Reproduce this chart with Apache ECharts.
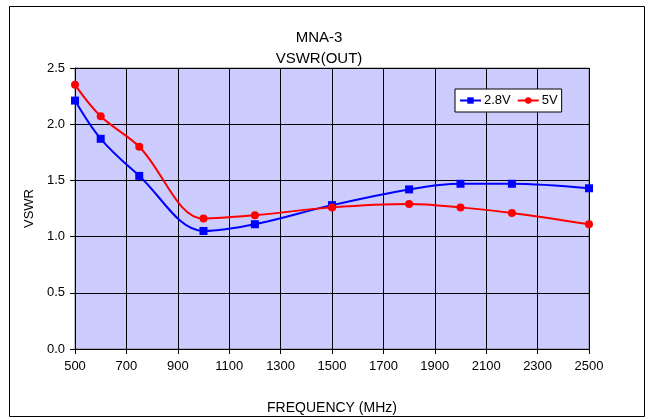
<!DOCTYPE html>
<html><head><meta charset="utf-8">
<script src="https://cdn.jsdelivr.net/npm/echarts@6/dist/echarts.min.js"></script>
<style>html,body{margin:0;padding:0;background:#fff}#c{width:650px;height:420px}</style>
</head><body><div id="c"></div>
<script>
var freq = [500, 600, 750, 1000, 1200, 1500, 1800, 2000, 2200, 2500];
var v28 = [2.21, 1.87, 1.54, 1.05, 1.11, 1.28, 1.42, 1.47, 1.47, 1.43];
var v5 = [2.35, 2.07, 1.80, 1.16, 1.19, 1.26, 1.29, 1.26, 1.21, 1.11];
var seriesNames = ['2.8V', '5V'];
function pairs(xs, ys){ return xs.map(function(x,i){return [x, ys[i]];}); }
var chart = echarts.init(document.getElementById('c'));
var font = 'Liberation Sans, Arial, sans-serif';
chart.setOption({
  animation: false,
  backgroundColor: '#fff',
  title: {
    text: 'MNA-3\nVSWR(OUT)', left: 314, top: 22, textAlign: 'center',
    textStyle: {fontFamily: font, fontSize: 15, fontWeight: 'normal', color: '#000', lineHeight: 21}
  },
  graphic: [{type: 'rect', shape: {x: 9.5, y: 6.5, width: 635, height: 410}, style: {fill: 'none', stroke: '#000', lineWidth: 1}, silent: true}],
  legend: {
    left: 455, top: 89, orient: 'horizontal', itemGap: 6, itemWidth: 21, itemHeight: 8,
    backgroundColor: '#fff', borderColor: '#000', borderWidth: 1, padding: [5, 4],
    textStyle: {fontFamily: font, fontSize: 13, color: '#000', padding: [0,0,0,-2]},
    data: seriesNames
  },
  grid: {left: 75, right: 61, top: 68, bottom: 71, show: true, backgroundColor: '#CCCCFF', borderColor: '#808080', borderWidth: 1},
  xAxis: {
    type: 'value', min: 500, max: 2500, interval: 200,
    name: 'FREQUENCY (MHz)', nameLocation: 'middle', nameGap: 52,
    nameTextStyle: {fontFamily: font, fontSize: 14, color: '#000'},
    axisLine: {show: true, lineStyle: {color: '#000'}},
    axisTick: {show: true, length: 5, lineStyle: {color: '#000'}},
    axisLabel: {fontFamily: font, fontSize: 13, color: '#000', margin: 11, formatter: function(v){return String(v);}},
    splitLine: {show: true, lineStyle: {color: '#000', width: 1}}
  },
  yAxis: {
    type: 'value', min: 0, max: 2.5, interval: 0.5,
    name: 'VSWR', nameLocation: 'middle', nameGap: 39, nameRotate: 90,
    nameTextStyle: {fontFamily: font, fontSize: 13, color: '#000'},
    axisLine: {show: true, lineStyle: {color: '#000'}},
    axisTick: {show: true, length: 5, lineStyle: {color: '#000'}},
    axisLabel: {fontFamily: font, fontSize: 13, color: '#000', margin: 10, formatter: function(v){return v.toFixed(1);}},
    splitLine: {show: true, lineStyle: {color: '#000', width: 1}}
  },
  series: [
    {name: seriesNames[0], type: 'line', data: pairs(freq, v28), smooth: 0.35, symbol: 'rect', symbolSize: 8,
     itemStyle: {color: '#0000FF'}, lineStyle: {color: '#0000FF', width: 2}},
    {name: seriesNames[1], type: 'line', data: pairs(freq, v5), smooth: 0.35, symbol: 'circle', symbolSize: 8,
     itemStyle: {color: '#FF0000'}, lineStyle: {color: '#FF0000', width: 2}}
  ]
});
</script></body></html>
